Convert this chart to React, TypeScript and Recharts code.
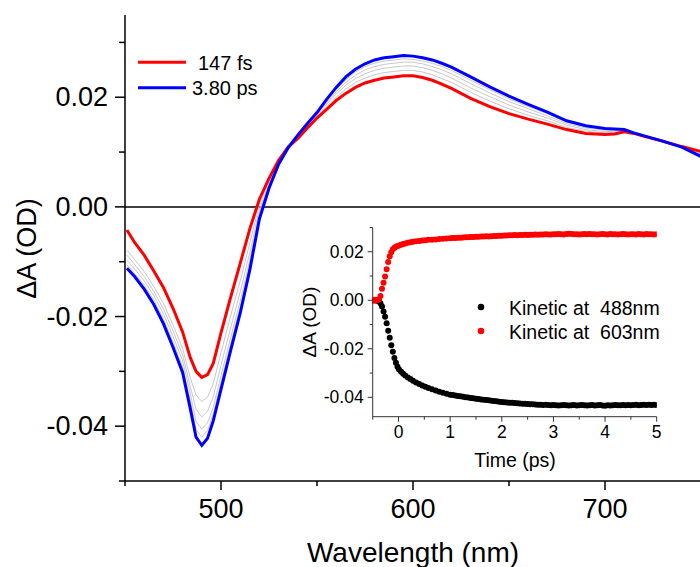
import { LineChart, Line, XAxis, YAxis, ReferenceLine, ScatterChart, Scatter } from "recharts";

const FONT = '"Liberation Sans", Arial, Helvetica, sans-serif';
const RED = "#ff0000";
const BLUE = "#0000ff";
const GRAY = "#c8c8c8";

// ---- main transient spectra (wavelength in nm, ΔA in OD) ----
const WAVELENGTH = [
  451, 455, 460, 465, 470, 475, 480,
  484, 487, 490, 493, 496,
  500, 505, 510, 515, 520, 525, 530, 535, 540, 545, 550, 555, 560, 565, 570, 575, 580, 585, 590, 595, 600, 605, 610, 615, 620,
  630, 640, 650, 660, 670, 680, 690,
  700, 705, 710, 715, 720,
  730, 740, 750,
];

const SPEC_147FS = [
  -0.0042, -0.0065, -0.0088, -0.0117, -0.0147, -0.0185, -0.0228,
  -0.0275, -0.03, -0.0311, -0.0306, -0.0285,
  -0.023, -0.0165, -0.0103, -0.004, 0.0014, 0.0052, 0.0085, 0.0109, 0.0125, 0.0144, 0.0162, 0.0178, 0.0194, 0.0207, 0.0218, 0.0226, 0.0231, 0.0235, 0.0237, 0.0239, 0.0239, 0.0236, 0.0231, 0.0224, 0.0216,
  0.0198, 0.0183, 0.017, 0.016, 0.0151, 0.0141, 0.0134,
  0.0132, 0.0133, 0.0137, 0.0134, 0.0129,
  0.012, 0.011, 0.0101,
];

const SPEC_MID_1 = [
  -0.0079, -0.0096, -0.0118, -0.0145, -0.0176, -0.0215, -0.0258,
  -0.0312, -0.0343, -0.0355, -0.0347, -0.0322,
  -0.0266, -0.0199, -0.0135, -0.0066, 0.0004, 0.0047, 0.0083, 0.0109, 0.0127, 0.0146, 0.0165, 0.0183, 0.02, 0.0215, 0.0227, 0.0235, 0.0241, 0.0245, 0.0247, 0.0249, 0.0249, 0.0246, 0.0241, 0.0234, 0.0227,
  0.0209, 0.0193, 0.0179, 0.0167, 0.0157, 0.0145, 0.0138,
  0.0135, 0.0136, 0.0138, 0.0134, 0.0129,
  0.012, 0.011, 0.0099,
];

const SPEC_MID_2 = [
  -0.0088, -0.0105, -0.0127, -0.0154, -0.0186, -0.0226, -0.027,
  -0.0327, -0.0369, -0.0383, -0.0373, -0.0346,
  -0.0289, -0.0221, -0.0155, -0.0083, -0.0004, 0.0043, 0.0082, 0.0108, 0.0128, 0.0148, 0.0167, 0.0187, 0.0206, 0.0222, 0.0234, 0.0243, 0.0249, 0.0253, 0.0255, 0.0257, 0.0257, 0.0254, 0.0249, 0.0243, 0.0235,
  0.0217, 0.0201, 0.0186, 0.0173, 0.0162, 0.0149, 0.0141,
  0.0137, 0.0138, 0.0139, 0.0134, 0.013,
  0.012, 0.011, 0.0097,
];

const SPEC_MID_3 = [
  -0.0097, -0.0113, -0.0135, -0.0162, -0.0195, -0.0236, -0.0281,
  -0.034, -0.0392, -0.0405, -0.0394, -0.0365,
  -0.0308, -0.0239, -0.0172, -0.0097, -0.001, 0.004, 0.008, 0.0108, 0.0129, 0.0149, 0.0169, 0.019, 0.021, 0.0227, 0.024, 0.025, 0.0256, 0.026, 0.0262, 0.0264, 0.0264, 0.0261, 0.0256, 0.025, 0.0243,
  0.0225, 0.0208, 0.0192, 0.0179, 0.0166, 0.0152, 0.0144,
  0.014, 0.014, 0.014, 0.0135, 0.013,
  0.012, 0.0109, 0.0095,
];

const SPEC_MID_4 = [
  -0.0106, -0.0121, -0.0143, -0.017, -0.0204, -0.0246, -0.0292,
  -0.0354, -0.0406, -0.042, -0.0408, -0.0377,
  -0.032, -0.025, -0.0183, -0.0106, -0.0016, 0.0037, 0.0079, 0.0108, 0.013, 0.0151, 0.017, 0.0193, 0.0214, 0.0232, 0.0246, 0.0256, 0.0262, 0.0266, 0.0268, 0.027, 0.0269, 0.0266, 0.0262, 0.0256, 0.0249,
  0.0231, 0.0214, 0.0197, 0.0183, 0.017, 0.0155, 0.0146,
  0.0141, 0.0141, 0.014, 0.0135, 0.013,
  0.012, 0.0109, 0.0094,
];

const SPEC_3_80PS = [
  -0.0112, -0.0127, -0.015, -0.0178, -0.0213, -0.0256, -0.0302,
  -0.0368, -0.042, -0.0435, -0.0422, -0.039,
  -0.0333, -0.0262, -0.0194, -0.0115, -0.0022, 0.0034, 0.0078, 0.0108, 0.0131, 0.0152, 0.0172, 0.0196, 0.0218, 0.0237, 0.0251, 0.0261, 0.0268, 0.0272, 0.0274, 0.0276, 0.0275, 0.0272, 0.0268, 0.0262, 0.0255,
  0.0237, 0.0219, 0.0202, 0.0187, 0.0173, 0.0157, 0.0148,
  0.0143, 0.0142, 0.0141, 0.0135, 0.013,
  0.012, 0.0109, 0.0092,
];

const MAIN_X_TICKS = [450, 500, 550, 600, 650, 700, 750];
const MAIN_X_MAJOR = [500, 600, 700];
const MAIN_Y_TICKS = [-0.05, -0.04, -0.03, -0.02, -0.01, 0, 0.01, 0.02, 0.03];
const MAIN_Y_MAJOR = [-0.04, -0.02, 0, 0.02];

// ---- inset kinetics (time in ps) ----
const TIME_PS = [
  -0.5, -0.47, -0.44, -0.41, -0.38, -0.35, -0.32, -0.29, -0.26, -0.23, -0.2, -0.17, -0.14, -0.11, -0.08, -0.05, -0.02,
  0.01, 0.05, 0.09, 0.13, 0.18, 0.23, 0.28, 0.34, 0.4, 0.46, 0.52, 0.58, 0.65, 0.72, 0.79, 0.86, 0.93, 1.0,
  1.05, 1.1, 1.15, 1.2, 1.25, 1.3, 1.35, 1.4, 1.45, 1.5,
  1.55, 1.6, 1.65, 1.7, 1.75, 1.8, 1.85, 1.9, 1.95, 2.0,
  2.05, 2.1, 2.15, 2.2, 2.25, 2.3, 2.35, 2.4, 2.45, 2.5,
  2.55, 2.6, 2.65, 2.7, 2.75, 2.8, 2.85, 2.9, 2.95, 3.0,
  3.05, 3.1, 3.15, 3.2, 3.25, 3.3, 3.35, 3.4, 3.45, 3.5,
  3.55, 3.6, 3.65, 3.7, 3.75, 3.8, 3.85, 3.9, 3.95, 4.0,
  4.05, 4.1, 4.15, 4.2, 4.25, 4.3, 4.35, 4.4, 4.45, 4.5,
  4.55, 4.6, 4.65, 4.7, 4.75, 4.8, 4.85, 4.9, 4.95, 5.0,
];

const KIN_488 = [
  0.0, -0.0001, 0.0001, -0.0002, -0.0004, -0.0012, -0.0026, -0.0046, -0.0068, -0.0095, -0.0126, -0.0155, -0.0185, -0.0212, -0.0238, -0.0258, -0.0274,
  -0.0285, -0.0295, -0.0303, -0.031, -0.0318, -0.0325, -0.0332, -0.0339, -0.0345, -0.0351, -0.0357, -0.0362, -0.0367, -0.0372, -0.0377, -0.0381, -0.0385, -0.0389,
  -0.0391, -0.0393, -0.0395, -0.0396, -0.0398, -0.04, -0.0401, -0.0403, -0.0404, -0.0406,
  -0.0407, -0.0409, -0.041, -0.0411, -0.0412, -0.0414, -0.0415, -0.0416, -0.0418, -0.0419,
  -0.042, -0.0421, -0.0422, -0.0423, -0.0424, -0.0425, -0.0426, -0.0427, -0.0427, -0.0428,
  -0.0429, -0.0429, -0.043, -0.0431, -0.0431, -0.0432, -0.0431, -0.0432, -0.0433, -0.0432,
  -0.0433, -0.0434, -0.0433, -0.0432, -0.0433, -0.0434, -0.0433, -0.0432, -0.0434, -0.0433,
  -0.0432, -0.0433, -0.0434, -0.0433, -0.0432, -0.0434, -0.0433, -0.0432, -0.0434, -0.0435,
  -0.0433, -0.0434, -0.0433, -0.0432, -0.0433, -0.0433, -0.0432, -0.0433, -0.0432, -0.0433,
  -0.0432, -0.0431, -0.0433, -0.0432, -0.0431, -0.0432, -0.0431, -0.0432, -0.0431, -0.0432,
];

const KIN_603 = [
  0.0, 0.0002, -0.0001, 0.0001, 0.0003, 0.0018, 0.0048, 0.0072, 0.0098, 0.0128, 0.0158, 0.0181, 0.0198, 0.021, 0.0217, 0.0221, 0.0224,
  0.0226, 0.0229, 0.0232, 0.0234, 0.0237, 0.0239, 0.0241, 0.0243, 0.0244, 0.0246, 0.0247, 0.0249, 0.025, 0.0251, 0.0253, 0.0254, 0.0255, 0.0256,
  0.0257, 0.0257, 0.0258, 0.0258, 0.0259, 0.026, 0.026, 0.0261, 0.0261, 0.0262,
  0.0262, 0.0263, 0.0263, 0.0264, 0.0263, 0.0264, 0.0265, 0.0265, 0.0266, 0.0266,
  0.0267, 0.0267, 0.0268, 0.0268, 0.0269, 0.0268, 0.0269, 0.0269, 0.027, 0.0269,
  0.027, 0.027, 0.0271, 0.027, 0.0271, 0.0271, 0.0272, 0.0271, 0.0271, 0.0272,
  0.0272, 0.0273, 0.0272, 0.0271, 0.0273, 0.0274, 0.0273, 0.0272, 0.0272, 0.0271,
  0.0272, 0.0273, 0.0272, 0.0273, 0.0272, 0.0272, 0.0271, 0.0272, 0.0273, 0.0272,
  0.0271, 0.0273, 0.0272, 0.0272, 0.0271, 0.0272, 0.0273, 0.0272, 0.0271, 0.0272,
  0.0272, 0.0271, 0.0273, 0.0272, 0.0271, 0.0273, 0.0272, 0.0272, 0.0271, 0.0272,
];

const INSET_X_TICKS = [-0.5, 0, 0.5, 1, 1.5, 2, 2.5, 3, 3.5, 4, 4.5, 5];
const INSET_X_MAJOR = [0, 1, 2, 3, 4, 5];
const INSET_Y_TICKS = [-0.04, -0.03, -0.02, -0.01, 0, 0.01, 0.02, 0.03];
const INSET_Y_MAJOR = [-0.04, -0.02, 0, 0.02];

const spectra = WAVELENGTH.map((wl, i) => ({
  wl,
  fs147: SPEC_147FS[i],
  mid1: SPEC_MID_1[i],
  mid2: SPEC_MID_2[i],
  mid3: SPEC_MID_3[i],
  mid4: SPEC_MID_4[i],
  ps380: SPEC_3_80PS[i],
}));

const kinetic488 = TIME_PS.map((t, i) => ({ t, v: KIN_488[i] }));
const kinetic603 = TIME_PS.map((t, i) => ({ t, v: KIN_603[i] }));

const inList = (list: number[], v: number) => list.some((m) => Math.abs(m - v) < 1e-9);

function MainXTick({ x, y, payload }: any) {
  const major = inList(MAIN_X_MAJOR, payload.value);
  return (
    <g>
      <line x1={x} x2={x} y1={y} y2={y + (major ? 9 : 5)} stroke="#000" strokeWidth={1.5} />
      {major && (
        <text x={x} y={y + 28} textAnchor="middle" dominantBaseline="central" fontSize={27} fontFamily={FONT} fill="#000">
          {payload.value}
        </text>
      )}
    </g>
  );
}

function MainYTick({ x, y, payload }: any) {
  const major = inList(MAIN_Y_MAJOR, payload.value);
  return (
    <g>
      <line x1={x} x2={x - (major ? 10 : 6)} y1={y} y2={y} stroke="#000" strokeWidth={1.5} />
      {major && (
        <text x={x - 17} y={y} textAnchor="end" dominantBaseline="central" fontSize={27} fontFamily={FONT} fill="#000">
          {payload.value.toFixed(2)}
        </text>
      )}
    </g>
  );
}

function InsetXTick({ x, y, payload }: any) {
  const major = inList(INSET_X_MAJOR, payload.value);
  return (
    <g>
      <line x1={x} x2={x} y1={y} y2={y + (major ? 5 : 3)} stroke="#333" strokeWidth={1} />
      {major && (
        <text x={x} y={y + 15} textAnchor="middle" dominantBaseline="central" fontSize={17.5} fontFamily={FONT} fill="#000">
          {payload.value}
        </text>
      )}
    </g>
  );
}

function InsetYTick({ x, y, payload }: any) {
  const major = inList(INSET_Y_MAJOR, payload.value);
  return (
    <g>
      <line x1={x} x2={x - (major ? 5 : 3)} y1={y} y2={y} stroke="#333" strokeWidth={1} />
      {major && (
        <text x={x - 9} y={y} textAnchor="end" dominantBaseline="central" fontSize={17.5} fontFamily={FONT} fill="#000">
          {payload.value.toFixed(2)}
        </text>
      )}
    </g>
  );
}

const dot = (color: string) => (props: any) =>
  <circle cx={props.cx} cy={props.cy} r={3} fill={color} />;

export default function App() {
  return (
    <div style={{ position: "absolute", left: 0, top: 0, width: 700, height: 567, overflow: "hidden", background: "#fff" }}>
      <div style={{ position: "absolute", left: 0, top: 0 }}>
        <LineChart width={701} height={567} data={spectra} margin={{ top: 15, right: 0, bottom: 0, left: 0 }}>
          <XAxis
            dataKey="wl"
            type="number"
            domain={[450, 750]}
            ticks={MAIN_X_TICKS}
            interval={0}
            height={86}
            tickSize={0}
            tickMargin={0}
            tickLine={false}
            axisLine={{ stroke: "#000", strokeWidth: 1.5 }}
            tick={<MainXTick />}
            allowDataOverflow
          />
          <YAxis
            type="number"
            domain={[-0.05, 0.035]}
            ticks={MAIN_Y_TICKS}
            interval={0}
            width={125}
            tickSize={0}
            tickMargin={0}
            tickLine={false}
            axisLine={{ stroke: "#000", strokeWidth: 1.5 }}
            tick={<MainYTick />}
            allowDataOverflow
          />
          <ReferenceLine y={0} stroke="#000" strokeWidth={1.5} />
          <Line dataKey="mid1" stroke={GRAY} strokeWidth={1} dot={false} isAnimationActive={false} />
          <Line dataKey="mid2" stroke={GRAY} strokeWidth={1} dot={false} isAnimationActive={false} />
          <Line dataKey="mid3" stroke={GRAY} strokeWidth={1} dot={false} isAnimationActive={false} />
          <Line dataKey="mid4" stroke={GRAY} strokeWidth={1} dot={false} isAnimationActive={false} />
          <Line dataKey="fs147" stroke={RED} strokeWidth={3} dot={false} isAnimationActive={false} />
          <Line dataKey="ps380" stroke={BLUE} strokeWidth={3} dot={false} isAnimationActive={false} />
        </LineChart>
      </div>

      <div style={{ position: "absolute", left: 300, top: 220 }}>
        <ScatterChart width={370} height={240} margin={{ top: 7.5, right: 13.3, bottom: 0, left: 0 }}>
          <XAxis
            dataKey="t"
            type="number"
            domain={[-0.5, 5]}
            ticks={INSET_X_TICKS}
            interval={0}
            height={43.3}
            tickSize={0}
            tickMargin={0}
            tickLine={false}
            axisLine={{ stroke: "#333", strokeWidth: 1 }}
            tick={<InsetXTick />}
            allowDataOverflow
          />
          <YAxis
            dataKey="v"
            type="number"
            domain={[-0.048, 0.03]}
            ticks={INSET_Y_TICKS}
            interval={0}
            width={72.7}
            tickSize={0}
            tickMargin={0}
            tickLine={false}
            axisLine={{ stroke: "#333", strokeWidth: 1 }}
            tick={<InsetYTick />}
            allowDataOverflow
          />
          <Scatter data={kinetic488} fill="#000" shape={dot("#000")} isAnimationActive={false} />
          <Scatter data={kinetic603} fill={RED} shape={dot(RED)} isAnimationActive={false} />
        </ScatterChart>
      </div>

      <svg width={700} height={567} style={{ position: "absolute", left: 0, top: 0, pointerEvents: "none" }} fontFamily={FONT}>
        {/* main axis titles */}
        <text x={36} y={248.5} transform="rotate(-90 36 248.5)" textAnchor="middle" fontSize={27} fill="#000">
          ΔA (OD)
        </text>
        <text x={413} y={562} textAnchor="middle" fontSize={28} fill="#000">
          Wavelength (nm)
        </text>

        {/* main legend */}
        <line x1={138} x2={186} y1={62.3} y2={62.3} stroke={RED} strokeWidth={3} />
        <text x={198} y={62.5} dominantBaseline="central" fontSize={20} fill="#000">147 fs</text>
        <line x1={138} x2={186} y1={87.7} y2={87.7} stroke={BLUE} strokeWidth={3} />
        <text x={192} y={88} dominantBaseline="central" fontSize={20} fill="#000">3.80 ps</text>

        {/* inset axis titles */}
        <text x={316} y={322} transform="rotate(-90 316 322)" textAnchor="middle" fontSize={19} fill="#000">
          ΔA (OD)
        </text>
        <text x={515} y={467} textAnchor="middle" fontSize={19.5} fill="#000">
          Time (ps)
        </text>

        {/* inset legend */}
        <circle cx={481} cy={307} r={3.3} fill="#000" />
        <text x={509} y={308} dominantBaseline="central" fontSize={19.5} fill="#000" style={{ whiteSpace: "pre" }}>
          {"Kinetic at  488nm"}
        </text>
        <circle cx={481} cy={331} r={3.3} fill={RED} />
        <text x={509} y={332} dominantBaseline="central" fontSize={19.5} fill="#000" style={{ whiteSpace: "pre" }}>
          {"Kinetic at  603nm"}
        </text>
      </svg>
    </div>
  );
}
